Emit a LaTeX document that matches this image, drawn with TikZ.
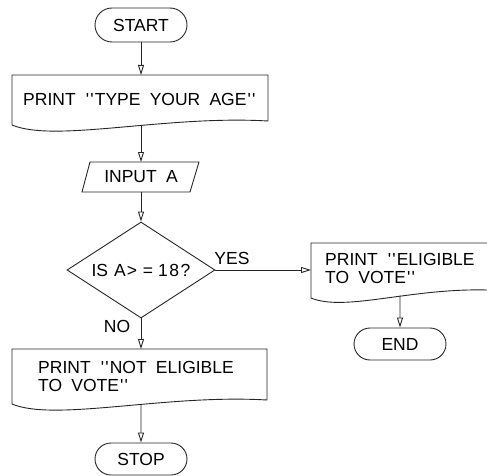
\documentclass[tikz,border=0pt]{standalone}
\usepackage{fontspec}
\setmainfont{Liberation Sans}[WordSpace=1.9]
\usetikzlibrary{shapes.geometric,shapes.misc,arrows.meta}

\newcommand{\chartfont}{\fontsize{17.5}{18.5}\selectfont}
% typewriter-style double tick quotes
\newcommand{\qq}{\kern1pt\textquotesingle\kern1.2pt\textquotesingle\kern1pt}

\tikzset{
  outline/.style={draw=black!85, line width=0.9pt},
  flow/.style={outline, -{Triangle[open,length=10pt,width=6pt]}},
  terminal/.style={rounded rectangle, outline, minimum width=92pt,
    minimum height=33pt, inner sep=0pt, font=\chartfont},
  decision/.style={diamond, aspect=1.54, outline, minimum width=148pt,
    minimum height=96pt, inner sep=0pt, font=\chartfont},
  label/.style={inner sep=0pt, font=\chartfont},
  doctext/.style={inner sep=0pt, font=\chartfont, align=left},
}

\begin{document}
\begin{tikzpicture}[x=1pt, y=-1pt]
\useasboundingbox (0,0) rectangle (487,476);

% start
\node[terminal, minimum height=34pt] (start) at (141,25) {START};

% print prompt (document symbol)
\draw[outline] (12,125) -- (12,75) -- (268,75) -- (268,121)
  .. controls (165,115) and (55,143) .. (12,125);
\node[doctext, anchor=north west] (doc1) at (23,93) {PRINT \qq TYPE YOUR AGE\qq};
\coordinate (d1top) at (141,75);
\coordinate (d1bot) at (141,125.2);

% input (parallelogram)
\draw[outline] (90,162) -- (199,162) -- (190,192) -- (82,192) -- cycle;
\node[label] (input) at (141,177) {INPUT A};
\coordinate (intop) at (141,162);
\coordinate (inbot) at (141,192);

% decision
\node[decision] (dec) at (141,270)
  {IS\hspace{6pt}A\kern1pt>\hspace{6pt}=\hspace{5pt}1\kern1.5pt8\kern1.5pt?};
\node[label] (yes) at (232,258) {YES};
\node[label] (no) at (117,326) {NO};

% yes branch: document symbol running off the right edge
\draw[outline] (487,243) -- (311,243) -- (311,298)
  .. controls (345,312) and (410,288) .. (487,290);
\node[doctext, anchor=north west] (doc3) at (325,253) {PRINT \qq ELIGIBLE\\TO VOTE\qq};
\coordinate (d3left) at (311,270);
\coordinate (d3bot) at (400,295.5);
\node[terminal, minimum height=32pt] (end) at (400,344) {END};

% no branch
\draw[outline] (12,404) -- (12,349) -- (267,349) -- (267,400)
  .. controls (165,394) and (55,422) .. (12,404);
\node[doctext, anchor=north west] (doc2) at (38,361) {PRINT \qq NOT ELIGIBLE\\TO VOTE\qq};
\coordinate (d2top) at (141,349);
\coordinate (d2bot) at (141,404.2);
\node[terminal, minimum height=32pt] (stop) at (141,459) {STOP};

% connectors
\draw[flow] (start) -- (d1top);
\draw[flow] (d1bot) -- (intop);
\draw[flow] (inbot) -- (dec.north);
\draw[flow] (dec.east) -- (d3left);
\draw[flow] (d3bot) -- (end);
\draw[flow] (dec.south) -- (d2top);
\draw[flow] (d2bot) -- (stop);
\end{tikzpicture}
\end{document}
